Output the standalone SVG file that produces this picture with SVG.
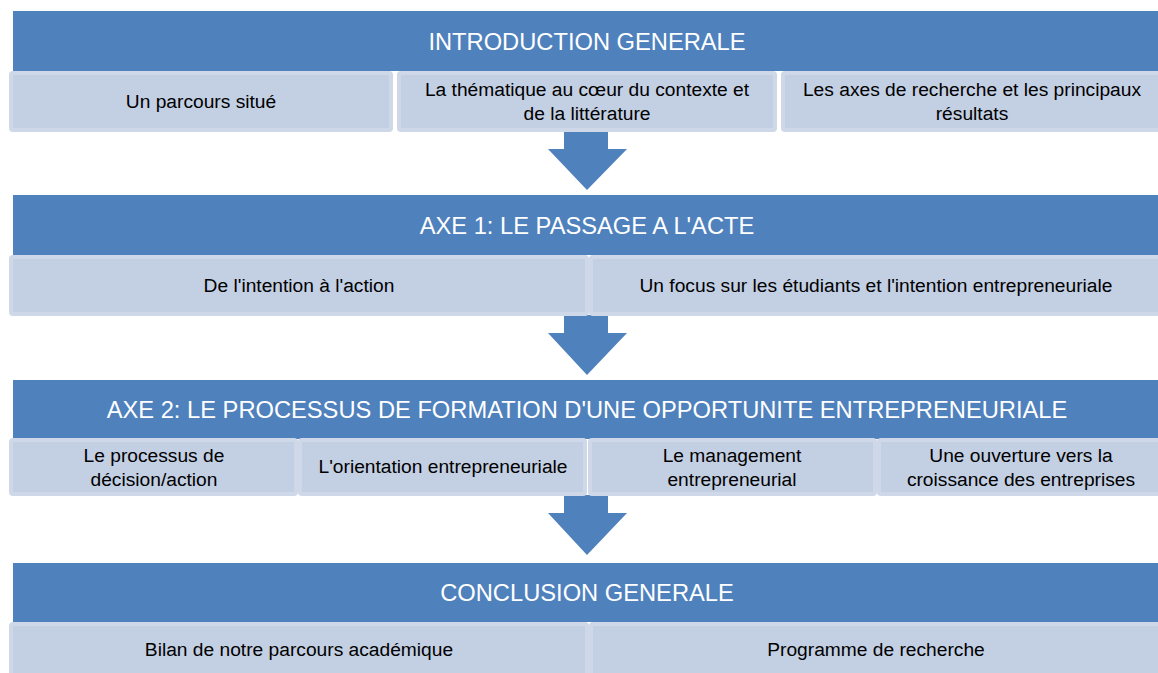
<svg xmlns="http://www.w3.org/2000/svg" width="1158" height="673" viewBox="0 0 1158 673">
<style>
.band{fill:#4f81bd;}
.cell{fill:#c3cfe3;stroke:#cfd8e9;stroke-width:4;}
.arrow{fill:#4f81bd;}
.ht{font-family:"Liberation Sans",Arial,sans-serif;font-size:23.7px;fill:#ffffff;text-anchor:middle;}
.st{font-family:"Liberation Sans",Arial,sans-serif;font-size:19.2px;fill:#000000;text-anchor:middle;}
</style>
<rect width="1158" height="673" fill="#ffffff"/>
<g id="connectors">
<path class="arrow" d="M564,131 H608 V149 H627 L587,190 L548,149 H564 Z"/>
<path class="arrow" d="M564,315 H608 V333 H627 L587,375 L548,333 H564 Z"/>
<path class="arrow" d="M564,495 H608 V513 H627 L587,555 L548,513 H564 Z"/>
</g>
<g id="intro">
<rect class="band" x="13" y="11" width="1150" height="60"/>
<text class="ht" x="587" y="50">INTRODUCTION GENERALE</text>
</g>
<g id="intro-1">
<rect class="cell" x="11" y="73" width="380" height="57" rx="2"/>
<text class="st" x="201" y="108">Un parcours situé</text>
</g>
<g id="intro-2">
<rect class="cell" x="399" y="73" width="376" height="57" rx="2"/>
<text class="st" x="587" y="96">La thématique au cœur du contexte et</text>
<text class="st" x="587" y="120">de la littérature</text>
</g>
<g id="intro-3">
<rect class="cell" x="783" y="73" width="380" height="57" rx="2"/>
<text class="st" x="972" y="96">Les axes de recherche et les principaux</text>
<text class="st" x="972" y="120">résultats</text>
</g>
<g id="axe1">
<rect class="band" x="13" y="195" width="1150" height="60"/>
<text class="ht" x="587" y="234">AXE 1: LE PASSAGE A L'ACTE</text>
</g>
<g id="axe1-1">
<rect class="cell" x="11" y="257" width="576" height="57" rx="2"/>
<text class="st" x="299" y="292">De l'intention à l'action</text>
</g>
<g id="axe1-2">
<rect class="cell" x="591" y="257" width="572" height="57" rx="2"/>
<text class="st" x="876" y="292">Un focus sur les étudiants et l'intention entrepreneuriale</text>
</g>
<g id="axe2">
<rect class="band" x="13" y="380" width="1150" height="59"/>
<text class="ht" x="587" y="418">AXE 2: LE PROCESSUS DE FORMATION D'UNE OPPORTUNITE ENTREPRENEURIALE</text>
</g>
<g id="axe2-1">
<rect class="cell" x="11" y="440" width="285" height="54" rx="2"/>
<text class="st" x="154" y="462">Le processus de</text>
<text class="st" x="154" y="486">décision/action</text>
</g>
<g id="axe2-2">
<rect class="cell" x="300" y="440" width="285" height="54" rx="2"/>
<text class="st" x="443" y="473">L'orientation entrepreneuriale</text>
</g>
<g id="axe2-3">
<rect class="cell" x="590" y="440" width="285" height="54" rx="2"/>
<text class="st" x="732" y="462">Le management</text>
<text class="st" x="732" y="486">entrepreneurial</text>
</g>
<g id="axe2-4">
<rect class="cell" x="879" y="440" width="285" height="54" rx="2"/>
<text class="st" x="1021" y="462">Une ouverture vers la</text>
<text class="st" x="1021" y="486">croissance des entreprises</text>
</g>
<g id="conclusion">
<rect class="band" x="13" y="563" width="1150" height="59"/>
<text class="ht" x="587" y="601">CONCLUSION GENERALE</text>
</g>
<g id="conclusion-1">
<rect class="cell" x="11" y="624" width="576" height="57" rx="2"/>
<text class="st" x="299" y="656">Bilan de notre parcours académique</text>
</g>
<g id="conclusion-2">
<rect class="cell" x="591" y="624" width="572" height="57" rx="2"/>
<text class="st" x="876" y="656">Programme de recherche</text>
</g>
</svg>
